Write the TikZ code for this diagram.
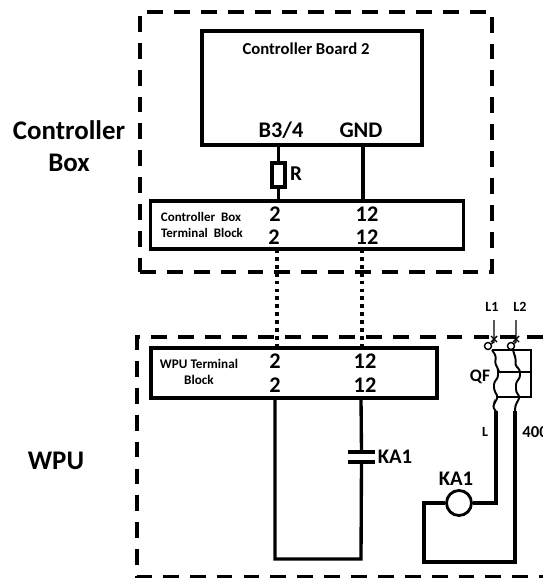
\documentclass[tikz,border=0pt]{standalone}
\usepackage{fontspec}
\setmainfont{Carlito}
\usetikzlibrary{calc}
\tikzset{
    wire/.style={line width=1.9pt},
    thin wire/.style={line width=0.8pt},
    box/.style={draw, line width=1.9pt, minimum width=#1, inner sep=0pt, outer sep=0pt},
    zone/.style={line width=2pt, dash pattern=on 9pt off 6.3pt},
    link/.style={line width=1.8pt, dash pattern=on 2.2pt off 2.3pt},
    lab/.style={font=\bfseries\fontsize{#1}{#1}\selectfont, inner sep=0pt}
}

\begin{document}
\begin{tikzpicture}[x=0.02cm, y=-0.02cm]
        \useasboundingbox (0,0) rectangle (542,578);
        % outer zones
        \node[draw, zone, minimum width=7.04cm, minimum height=5.2cm, inner sep=0pt] (ctrlzone) at (316,142) {};
        \coordinate (wputr) at (570,337);
        \coordinate (wputl) at (137,337);
        \coordinate (wpubl) at (137,577);
        \coordinate (wpubr) at (570,577);
        \draw[zone] (wputr) -- (wputl) -- (wpubl) -- (wpubr);
        \node[lab=15.3] (ctrltxt) at (69,130) {Controller};
        \node[lab=15.3] (boxtxt) at (69,163) {Box};
        \node[lab=15.3] (wputxt) at (56,461) {WPU};

        \node[box=4.4cm, minimum height=2.28cm] (board) at (312,88) {};
        \node[lab=9.5] (boardtxt) at (306,49) {Controller Board 2};
        \node[lab=12.7] (b34) at (281,130) {B3/4};
        \node[lab=12.7] (gnd) at (361,130) {GND};

        \node[box=6.26cm, minimum height=0.96cm] (ctb) at (307,225) {};
        \node[lab=7.4] (ctbtxta) at (201,217) {Controller\ \ Box};
        \node[lab=7.4] (ctbtxtb) at (202,233) {Terminal\ \ Block};
        \node[lab=12.7] (ca2) at (275,214) {2};
        \node[lab=12.7] (ca12) at (367,214) {12};
        \node[lab=12.7] (cb2) at (274,237) {2};
        \node[lab=12.7] (cb12) at (367,237) {12};

        \node[box=5.72cm, minimum height=1cm] (wtb) at (294,373) {};
        \node[lab=7.5] (wtbtxta) at (199,364) {WPU Terminal};
        \node[lab=7.5] (wtbtxtb) at (199,380) {Block};
        \node[lab=12.7] (wa2) at (275,361) {2};
        \node[lab=12.7] (wa12) at (365,361) {12};
        \node[lab=12.7] (wb2) at (275,385) {2};
        \node[lab=12.7] (wb12) at (365,385) {12};

        \node[box=0.26cm, minimum height=0.48cm, fill=white] (r) at (278.5,175) {};
        \node[lab=12] (rtxt) at (296,174) {R};
        \coordinate (bgnd) at (363,145);
        \coordinate (cgnd) at (363,201);
        \coordinate (br) at (278.5,145);
        \coordinate (cr) at (278.5,201);
        \draw[wire] (br) -- (r);
        \draw[wire] (r) -- (cr);
        \draw[wire] (bgnd) -- (cgnd);

        % links between the blocks
        \coordinate (la) at (277,249);
        \coordinate (lb) at (277,348);
        \coordinate (lc) at (362,249);
        \coordinate (ld) at (362,348);
        \draw[link] (la) -- (lb);
        \draw[link] (lc) -- (ld);

        % contact loop
        \coordinate (wa) at (275,398);
        \coordinate (wb) at (275,559);
        \coordinate (wc) at (361,559);
        \coordinate (wd) at (361,398);
        \node[minimum width=0.54cm, minimum height=0pt, inner sep=0pt] (platea) at (361.5,452) {};
        \node[minimum width=0.54cm, minimum height=0pt, inner sep=0pt] (plateb) at (361.5,462) {};
        \draw[wire] (platea.west) -- (platea.east);
        \draw[wire] (plateb.west) -- (plateb.east);
        \draw[wire] (wd) -- (platea);
        \draw[wire] (wa) -- (wb) -- (wc) -- (plateb);
        \node[lab=11.8] (katxta) at (395,457) {KA1};

        % coil loop
        \node[draw, circle, line width=1.6pt, minimum size=0.5cm, inner sep=0pt] (coil) at (459,503) {};
        \node[lab=11.8] (katxtb) at (456,479) {KA1};
        \coordinate (qa) at (496,411);
        \coordinate (qb) at (496,503);
        \coordinate (qc) at (424,503);
        \coordinate (qd) at (424,562);
        \coordinate (qe) at (515,562);
        \coordinate (qf) at (515,411);
        \draw[wire] (qa) -- (qb) -- (coil);
        \draw[wire] (coil) -- (qc) -- (qd) -- (qe) -- (qf);
        \node[lab=8] (ltxt) at (485,432) {L};
        \node[lab=9.5, anchor=west] (vtxt) at (522,432) {400};

        % breaker
        \node[lab=8] (lonetxt) at (492,307) {L1};
        \node[lab=8] (ltwotxt) at (520,307) {L2};
        \node[lab=10] (qftxt) at (480,377) {QF};
        \node[draw, circle, thin wire, minimum size=4pt, inner sep=0pt] (ca) at (488,346) {};
        \node[draw, circle, thin wire, minimum size=4pt, inner sep=0pt] (cb) at (511,346) {};
        \coordinate (fa) at (494,320);
        \coordinate (fb) at (494,342);
        \coordinate (fc) at (516,320);
        \coordinate (fd) at (516,342);
        \draw[thin wire] (fa) -- (fb) -- (ca);
        \draw[thin wire] (fc) -- (fd) -- (cb);
        \draw[thin wire] ($(fb)+(-3,-6)$) -- ($(fb)+(3,0)$) ($(fb)+(3,-6)$) -- ($(fb)+(-3,0)$);
        \draw[thin wire] ($(fd)+(-3,-6)$) -- ($(fd)+(3,0)$) ($(fd)+(3,-6)$) -- ($(fd)+(-3,0)$);
        \coordinate (ba) at (492,350);
        \coordinate (bb) at (531,350);
        \coordinate (bc) at (531,397);
        \coordinate (bd) at (498,397);
        \coordinate (be) at (498,372);
        \coordinate (bf) at (531,372);
        \draw[line width=1.1pt] (ba) -- (bb) -- (bc) -- (bd);
        \draw[line width=1.1pt] (be) -- (bf);
        \draw[line width=1.1pt, rounded corners=1.5pt] (ba) -- (496,356) -- (495,364) -- (498,368) -- (498,378) -- (494,382) -- (494,390) -- (498,397) -- (494,404) -- (493,408) -- (qa);
        \draw[line width=1.1pt, rounded corners=1.5pt] (513,350) -- (516,360) -- (515,365) -- (520,370) -- (520,378) -- (516,382) -- (516,392) -- (520,397) -- (516,404) -- (515,408) -- (qf);
    \end{tikzpicture}
\end{document}
